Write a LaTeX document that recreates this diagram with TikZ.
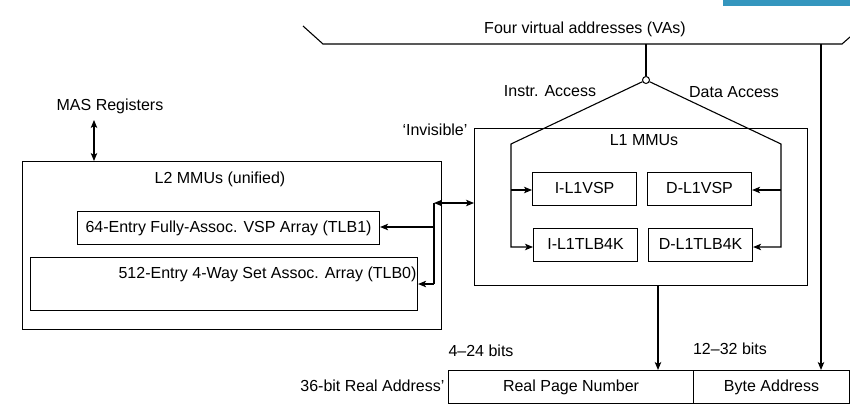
\documentclass[tikz,border=0pt]{standalone}
\usepackage{fontspec}
\setmainfont{Liberation Sans}
\usetikzlibrary{arrows.meta}
\definecolor{barblue}{RGB}{52,150,190}
\begin{document}
\begin{tikzpicture}[x=1pt,y=-1pt,line width=1.1pt,
  >={Stealth[length=8pt,width=6.5pt,inset=2pt]},
  every node/.style={font=\fontsize{16}{19}\selectfont,inner sep=0pt},
  txt/.style={text height=11.5pt,text depth=3.4pt},
  box/.style={draw,rectangle,anchor=north west,inner sep=0pt,line width=1.1pt}]
\useasboundingbox (0,0) rectangle (850,405);

% header strip
\fill[barblue] (723,0) rectangle (850,6);

% virtual address bus
\coordinate (busA) at (303,26);
\coordinate (busB) at (323,44);
\coordinate (busC) at (842,44);
\coordinate (busD) at (850,37);
\draw (busA) -- (busB) -- (busC) -- (busD);
\node[txt] (title) at (585,29.5) {Four virtual addresses (VAs)};

% fork into instruction / data paths
\coordinate (tapA) at (646,44);
\node[draw,circle,minimum size=7pt,fill=white,line width=1pt] (fork) at (646,80) {};
\draw (tapA) -- (fork);
\node[txt] (instr) at (550,92) {Instr. Access};
\node[txt] (data) at (734,93) {Data Access};

% L1 MMUs
\node[box,minimum width=333pt,minimum height=157pt] (l1) at (474,128) {};
\node[txt] (l1t) at (644,141.5) {L1 MMUs};
\node[box,txt,minimum width=104pt,minimum height=33pt] (ivsp) at (532,172) {I-L1VSP};
\node[box,txt,minimum width=104pt,minimum height=33pt] (dvsp) at (647,172) {D-L1VSP};
\node[box,txt,minimum width=104pt,minimum height=33pt] (itlb) at (533,228) {I-L1TLB4K};
\node[box,txt,minimum width=104pt,minimum height=33pt] (dtlb) at (648,228) {D-L1TLB4K};

\coordinate (iTop) at (511,144);
\coordinate (iMid) at (511,190);
\coordinate (iBot) at (511,247);
\coordinate (dTop) at (781,144);
\coordinate (dMid) at (781,190);
\coordinate (dBot) at (781,247);
\draw[->] (fork) -- (iTop) -- (iBot) -- (itlb.west |- iBot);
\draw[->] (iMid) -- (ivsp.west |- iMid);
\draw[->] (fork) -- (dTop) -- (dBot) -- (dtlb.east |- dBot);
\draw[->] (dMid) -- (dvsp.east |- dMid);

\node[txt] (inv) at (435,131.5) {‘Invisible’};

% L2 MMUs
\node[box,minimum width=419pt,minimum height=168pt] (l2) at (22,161) {};
\node[txt] (l2t) at (220,179.5) {L2 MMUs (unified)};
\node[box,txt,minimum width=302pt,minimum height=33pt] (tlb1) at (77,211) {64-Entry Fully-Assoc. VSP Array (TLB1)};
\node[box,minimum width=387pt,minimum height=53pt] (tlb0) at (30,257) {};
\node[txt,anchor=east] (tlb0t) at (417,274.5) {512-Entry 4-Way Set Assoc. Array (TLB0)};

% MAS registers
\node[txt] (mas) at (110,106.5) {MAS Registers};
\coordinate (masB) at (94,120);
\draw[<->] (masB) -- (masB |- l2.north);

% L1 <-> L2 links
\coordinate (hubT) at (434,203);
\coordinate (hubM) at (434,227);
\coordinate (hubB) at (434,284);
\draw (hubT) -- (hubB);
\draw[<->] (hubT) -- (l1.west |- hubT);
\draw[->] (hubM) -- (tlb1.east |- hubM);
\draw[->] (hubB) -- (tlb0.east |- hubB);

% real address
\node[box,txt,minimum width=245pt,minimum height=33pt] (rpn) at (448,370) {Real Page Number};
\node[box,txt,minimum width=156pt,minimum height=33pt] (ba) at (693,370) {Byte Address};
\node[txt,anchor=east] (ra) at (445,387.5) {36-bit Real Address’};
\node[txt] (b1) at (481,352.5) {4–24 bits};
\node[txt] (b2) at (730,350.5) {12–32 bits};

\coordinate (rpnIn) at (658,370);
\draw[->] (l1.south -| rpnIn) -- (rpnIn);
\coordinate (tapB) at (821,44);
\draw[->] (tapB) -- (tapB |- ba.north);
\end{tikzpicture}
\end{document}
